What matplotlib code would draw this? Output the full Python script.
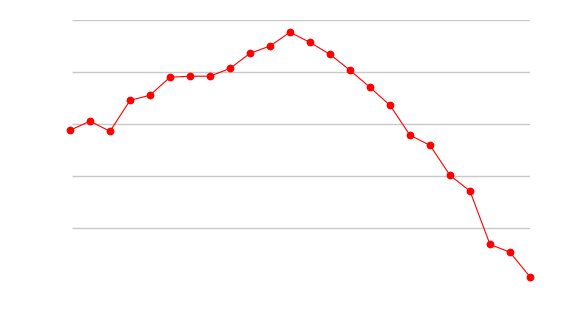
import matplotlib
matplotlib.use('Agg')
import matplotlib.pyplot as plt

# values (scale 0-100, gridlines every 20)
points = list(range(24))
values = [57.7, 61.2, 57.3, 69.2, 71.2, 78.1, 78.5, 78.5, 81.5, 87.3, 90.1, 95.4,
          91.5, 86.9, 80.8, 74.2, 67.3, 55.8, 51.9, 40.4, 34.3, 13.8, 10.8, 1.3]
grid_levels = [20, 40, 60, 80, 100]

fig = plt.figure(figsize=(5.7, 3.2), dpi=100)
ax = fig.add_axes([70 / 570, 39.7 / 320, 460 / 570, 260 / 320])

# gridlines start a little right of the first point
ax.hlines(grid_levels, 0.1, 23, color='#c8c8c8', linewidth=1, zorder=1)
ax.plot(points, values, color='#ff0000', linewidth=0.8, marker='o',
        markersize=5.6, markeredgewidth=0, zorder=3, clip_on=False)

ax.set_xlim(0, 23)
ax.set_ylim(0, 100)
ax.set_xticks([])
ax.set_yticks([])
for s in ax.spines.values():
    s.set_visible(False)

fig.savefig('out.png', dpi=100)
